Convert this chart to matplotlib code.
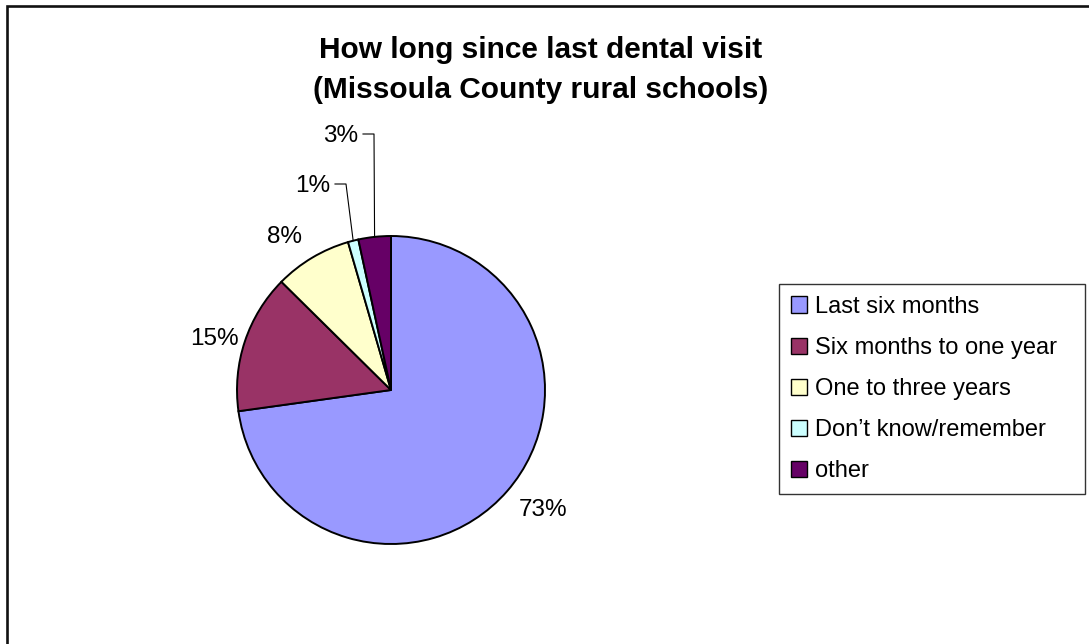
import matplotlib.pyplot as plt
import numpy as np
from matplotlib.patches import Patch, Rectangle

plt.rcParams["font.family"] = ["Liberation Sans", "DejaVu Sans"]

categories = [
    "Last six months",
    "Six months to one year",
    "One to three years",
    "Don\u2019t know/remember",
    "other",
]
shares = [72.8, 14.6, 8.1, 1.1, 3.4]
colors = ["#9999FF", "#993366", "#FFFFCC", "#CCFFFF", "#660066"]

W, H = 1089, 644


def py(y):
    # image row (from top) to data y
    return H - y


fig = plt.figure(figsize=(W / 100, H / 100), dpi=100)
ax = fig.add_axes([0, 0, 1, 1])

# outer frame (only left/top edges visible in the original crop)
fig.add_artist(Rectangle((7 / W, -0.05), 1.1, (H - 6) / H + 0.05, transform=fig.transFigure,
                         fill=False, edgecolor="#111111", linewidth=1.9))

cx, cy, r = 391, py(390), 154
wedges, _ = ax.pie(shares, colors=colors, startangle=90, counterclock=False,
                   center=(cx, cy), radius=r, frame=True,
                   wedgeprops=dict(edgecolor="black", linewidth=1.4))
ax.set_xlim(0, W)
ax.set_ylim(0, H)
ax.set_aspect("auto")
ax.axis("off")

# label anchor (x centre, baseline) in image pixels
label_pos = [(543, 516), (214, 345), (285, 243), (313, 192), (341, 142)]
leader = [False, False, False, True, True]
for w, v, (lx, ly), lead in zip(wedges, shares, label_pos, leader):
    ax.text(lx, py(ly), f"{v:.0f}%", ha="center", va="baseline", fontsize=17.5)
    if lead:
        mid = np.deg2rad((w.theta1 + w.theta2) / 2)
        ex, ey = cx + r * np.cos(mid), cy + r * np.sin(mid)
        y_line = py(ly - 8)
        ax.plot([lx + 22, lx + 33, ex], [y_line, y_line, ey], color="black", lw=0.8)

ax.text(541, py(58), "How long since last dental visit", ha="center", va="baseline",
        fontsize=21.5, fontweight="bold")
ax.text(541, py(98), "(Missoula County rural schools)", ha="center", va="baseline",
        fontsize=21.5, fontweight="bold")

handles = [Patch(facecolor=c, edgecolor="black", linewidth=1.0) for c in colors]
leg = ax.legend(handles, categories, loc="upper left",
                bbox_to_anchor=(779 / W, 1 - 284 / H, 306 / W, 0.0), bbox_transform=fig.transFigure,
                mode="expand", fontsize=17, frameon=True, fancybox=False, shadow=False,
                borderpad=0.5, labelspacing=0.81, handlelength=0.68, handleheight=0.68,
                handletextpad=0.34, borderaxespad=0)
leg.get_frame().set_edgecolor("black")
leg.get_frame().set_linewidth(1.0)

fig.savefig("out.png", dpi=100)
